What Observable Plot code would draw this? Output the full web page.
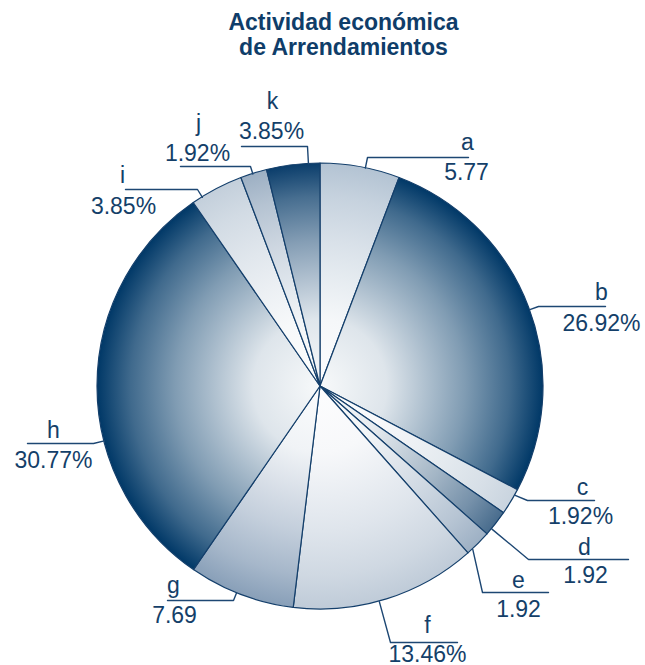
<!DOCTYPE html>
<html><head><meta charset="utf-8">
<script src="https://cdn.jsdelivr.net/npm/d3@7"></script>
<script src="https://cdn.jsdelivr.net/npm/@observablehq/plot@0.6"></script>
<style>
body{margin:0;background:#fff;font-family:"Liberation Sans",Arial,sans-serif;}
#title{position:relative;height:62px;width:645px;}
#title div{position:absolute;left:21px;width:645px;text-align:center;font-weight:bold;font-size:23px;line-height:25px;color:#0f3d69;}
#chart svg{display:block;overflow:visible;}
</style></head><body>
<div id="title"><div style="top:9.5px">Actividad económica<br>de Arrendamientos</div></div>
<div id="chart"></div>
<script>
// Data
const categories = ["a","b","c","d","e","f","g","h","i","j","k"];
const values = [5.77, 26.92, 1.92, 1.92, 1.92, 13.46, 7.69, 30.77, 3.85, 1.92, 3.85];
const valueText = ["5.77","26.92%","1.92%","1.92","1.92","13.46%","7.69","30.77%","3.85%","1.92%","3.85%"];
const endColors = ["#b3c3d3","#003867","#c9d4df","#486c8d","#9db0c4","#bfcbd8","#889fb8","#003867","#c3cfdb","#9cafc3","#0a3d6b"];

// Layout (page pixels) for annotations
const letterPos = [[467,149],[601,299],[582,494],[584,554],[518,587],[427,632],[173,592],[53,437],[122,182],[198,130],[272,108]];
const valuePos  = [[466,179],[601,330],[580,523],[585,582],[518,616],[427,661],[174,622],[53,467],[123,213],[197,160],[271,138]];
const elbows    = [[367,157],[538,306],[527,500],[528,559],[482,592],[390,642],[233,600],[93,443],[197,189],[250,166],[307,146]];
const lineEnds  = [468,605,594,628,548,457,167,27,125,180,241];

const TOP = 62, W = 645, H = 603;
const CX = 320, CY = 386, R = 223;
const toX = px => (px - CX) / R;
const toY = py => (CY - py) / R;

const pie = d3.pie().sort(null).value(d => d)(values);

// annotation rows
const textRows = [];
categories.forEach((c, i) => {
  textRows.push({x: toX(letterPos[i][0]), y: toY(letterPos[i][1]), t: c});
  textRows.push({x: toX(valuePos[i][0]), y: toY(valuePos[i][1]), t: valueText[i]});
});
const leaderRows = [];
categories.forEach((c, i) => {
  const ex = toX(elbows[i][0]), ey = toY(elbows[i][1]);
  let ang = Math.atan2(ex, ey); // clockwise from top
  if (ang < 0) ang += 2 * Math.PI;
  const m = 1.5 * Math.PI / 180;
  ang = Math.max(pie[i].startAngle + m, Math.min(pie[i].endAngle - m, ang));
  leaderRows.push({k: c, x: Math.sin(ang), y: Math.cos(ang)});
  leaderRows.push({k: c, x: ex, y: ey});
  leaderRows.push({k: c, x: toX(lineEnds[i]), y: ey});
});

const stops = [[0,0.03],[0.3,0.13],[0.5,0.34],[0.65,0.5],[0.85,0.75],[1,1]];

function pieMark(index, scales) {
  const x = scales.x, y = scales.y;
  const cx = x(0), cy = y(0), r = x(1) - x(0);
  const g = d3.create("svg:g").attr("transform", `translate(${cx},${cy})`);
  const defs = g.append("defs");
  pie.forEach((a, i) => {
    const grad = defs.append("radialGradient").attr("id", "sg" + i)
      .attr("gradientUnits", "userSpaceOnUse").attr("cx", 0).attr("cy", 0).attr("r", r);
    stops.forEach(([o, w]) => grad.append("stop").attr("offset", o)
      .attr("stop-color", d3.interpolateRgb("#ffffff", endColors[i])(w)));
  });
  g.selectAll("path").data(pie).join("path")
    .attr("d", d3.arc().innerRadius(0).outerRadius(r))
    .attr("fill", (d, i) => `url(#sg${i})`)
    .attr("stroke", "#143f6b").attr("stroke-width", 1.2).attr("stroke-linejoin", "round");
  return g.node();
}

const chart = Plot.plot({
  width: W, height: H, margin: 0,
  x: {domain: [-1, 1], range: [CX - R, CX + R], axis: null},
  y: {domain: [-1, 1], range: [CY - TOP + R, CY - TOP - R], axis: null},
  style: {overflow: "visible", background: "transparent"},
  marks: [
    pieMark,
    Plot.line(leaderRows, {x: "x", y: "y", z: "k", stroke: "#1d4773", strokeWidth: 1.4}),
    Plot.text(textRows, {x: "x", y: "y", text: "t", fontSize: 23, fill: "#143f69",
      fontFamily: "Liberation Sans, Arial, sans-serif", textAnchor: "middle", lineAnchor: "bottom"})
  ]
});
document.getElementById("chart").appendChild(chart);
</script>
</body></html>
